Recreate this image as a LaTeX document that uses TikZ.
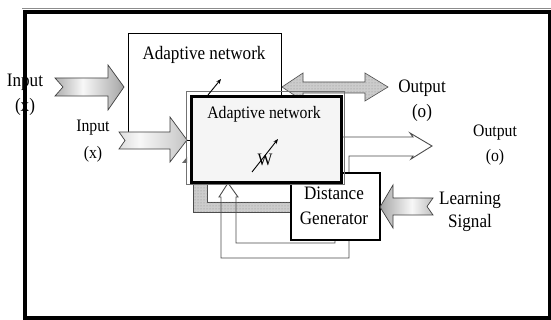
\documentclass[tikz,border=0pt]{standalone}
\usepackage{fontspec}
\setmainfont{Liberation Serif}[FakeStretch=0.9]
\usetikzlibrary{patterns,arrows.meta}
\pgfdeclarehorizontalshading{inshadeA}{100bp}{color(0bp)=(black!55); color(30bp)=(black!25); color(45bp)=(black!3); color(70bp)=(black!30); color(100bp)=(black!75)}
\pgfdeclarehorizontalshading{inshadeB}{100bp}{color(0bp)=(black!30); color(40bp)=(black!3); color(70bp)=(black!20); color(100bp)=(black!55)}
\pgfdeclarehorizontalshading{lsshade}{100bp}{color(0bp)=(black!75); color(30bp)=(black!30); color(55bp)=(black!3); color(75bp)=(black!25); color(100bp)=(black!55)}
\begin{document}
\begin{tikzpicture}[x=1pt,y=-1pt,
  lbl/.style={inner sep=0pt, font=\fontsize{19}{21}\selectfont},
  lbls/.style={inner sep=0pt, font=\fontsize{17.5}{20}\selectfont},
  box/.style={draw=black, fill=white, inner sep=0pt, anchor=north west},
  blockarrow/.style={draw=black!75, line width=0.7pt, line join=miter},
  dotfill/.style={draw=black!70, line width=0.6pt, fill=black!20, postaction={pattern=dots, pattern color=black!45}},
  thinline/.style={draw=black!70, line width=0.9pt, line join=miter},
  warrow/.style={-{Stealth[length=5pt,width=4pt]}, line width=0.9pt},
]
\useasboundingbox (0,0) rectangle (551,320);
\fill[white] (0,0) rectangle (551,320);

% back adaptive network box
\node[box, line width=1pt, minimum width=153pt, minimum height=107pt] (back) at (127.5,33) {};
\node[lbl] (backt) at (204,55) {Adaptive network};

% input arrows
\path[blockarrow, shading=inshadeA]
  (55,78) -- (108,78) -- (108,65) -- (124,87) -- (108,110) -- (108,96) -- (55,96) -- (63,87) -- cycle;
\path[blockarrow, shading=inshadeB]
  (119,132) -- (170,132) -- (170,117) -- (187,140) -- (170,162) -- (170,149) -- (119,149) -- (125,140.5) -- cycle;
\fill[black!60] (182,163) -- (187,157) -- (187,163) -- cycle;

% double output arrow
\path[dotfill] (282,87) -- (303,73) -- (303,82) -- (365,82) -- (365,73) -- (388,87)
  -- (365,101) -- (365,93) -- (303,93) -- (303,101) -- cycle;

% gray L band
\path[dotfill] (193,183) -- (207,183) -- (207,202) -- (290,202) -- (290,212) -- (193,212) -- cycle;

% hollow output / feedback arrow
\draw[thinline] (340,137) -- (413,137) -- (410,133) -- (432,146) -- (411,159) -- (413,156)
  -- (349,156) -- (349,258) -- (221,258) -- (221,197) -- (219,197) -- (228,183)
  -- (238,197) -- (236,197) -- (236,243) -- (335,243) -- (335,239);

% distance generator
\node[box, line width=2pt, minimum width=89pt, minimum height=67pt] (dist) at (290,172) {};
\node[lbl] (distt1) at (334,193) {Distance};
\node[lbl] (distt2) at (334,218) {Generator};

% front adaptive network box
\draw[black!55, line width=0.8pt] (186,91) rectangle (344,184);
\node[box, line width=3pt, minimum width=150pt, minimum height=86pt,
  path picture={
    \fill[black!4] (path picture bounding box.south west) rectangle (path picture bounding box.north east);
    \pgfmathsetseed{7}
    \foreach \i in {1,...,110}{
      \pgfmathsetmacro\px{188+154*rnd}
      \pgfmathsetmacro\py{93+90*rnd}
      \pgfmathsetmacro\rx{4+12*rnd}
      \pgfmathsetmacro\ry{1.2+2.5*rnd}
      \pgfmathsetmacro\an{10+50*rnd}
      \fill[black!50, opacity=0.2, rotate around={\an:(\px,\py)}] (\px,\py) ellipse [x radius=\rx pt, y radius=\ry pt];
    }
    \foreach \i in {1,...,50}{
      \pgfmathsetmacro\px{188+154*rnd}
      \pgfmathsetmacro\py{93+90*rnd}
      \pgfmathsetmacro\rx{4+9*rnd}
      \pgfmathsetmacro\ry{2+3*rnd}
      \fill[white, opacity=0.6] (\px,\py) ellipse [x radius=\rx pt, y radius=\ry pt];
    }
  }] (front) at (190,95) {};
\node[lbls] (frontt) at (264,114) {Adaptive network};
\node[lbls] (wlabel) at (265,160) {W};
\coordinate (w1) at (252,172);
\coordinate (w2) at (278,139);
\draw[warrow] (w1) -- (w2);
\coordinate (b1) at (208,95);
\coordinate (b2) at (221,79);
\draw[warrow] (b1) -- (b2);

% learning signal arrow
\path[blockarrow, shading=lsshade]
  (380,207) -- (393,185) -- (393,198) -- (433,198) -- (427,206.5) -- (433,215) -- (393,215) -- (393,228) -- cycle;

% labels
\node[lbl] (in1a) at (25,82) {Input};
\node[lbl] (in1b) at (25,107) {(x)};
\node[lbls] (in2a) at (93,128) {Input};
\node[lbls] (in2b) at (93,154) {(x)};
\node[lbl] (out1a) at (422,88) {Output};
\node[lbl] (out1b) at (422,113) {(o)};
\node[lbls] (out2a) at (495,133) {Output};
\node[lbls] (out2b) at (495,157) {(o)};
\node[lbl] (ls1) at (470,200) {Learning};
\node[lbl] (ls2) at (470,223) {Signal};

% frame
\draw[black!45, line width=0.8pt] (22,8) -- (551,8);
\draw[black, line width=4pt] (24.5,12.5) rectangle (549.5,317.5);
\end{tikzpicture}
\end{document}
